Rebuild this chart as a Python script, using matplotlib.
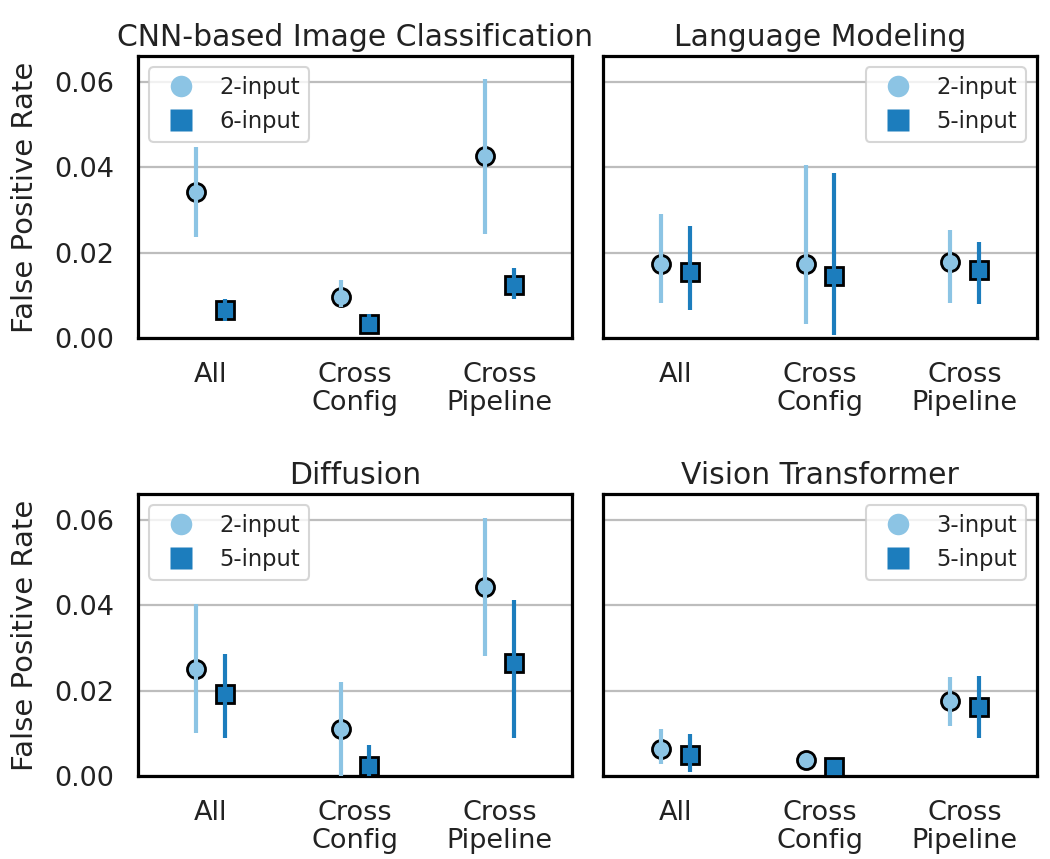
import matplotlib
matplotlib.use("Agg")
import matplotlib.pyplot as plt
from matplotlib.lines import Line2D
import numpy as np

plt.rcParams['font.family'] = ['DejaVu Sans']

categories = ["All", "Cross\nConfig", "Cross\nPipeline"]
yticks = [0.00, 0.02, 0.04, 0.06]

titles = ["CNN-based Image Classification", "Language Modeling",
          "Diffusion", "Vision Transformer"]
labels_a = ["2-input", "2-input", "2-input", "3-input"]
labels_b = ["6-input", "5-input", "5-input", "5-input"]

# CNN-based Image Classification
cnn_a_mean = [0.0342, 0.0096, 0.0425]
cnn_a_lo = [0.0237, 0.0072, 0.0243]
cnn_a_hi = [0.0448, 0.0135, 0.0606]
cnn_b_mean = [0.0065, 0.0033, 0.0123]
cnn_b_lo = [0.0039, 0.0015, 0.0092]
cnn_b_hi = [0.0092, 0.0057, 0.0165]

# Language Modeling
lm_a_mean = [0.0174, 0.0173, 0.0178]
lm_a_lo = [0.0083, 0.0032, 0.0083]
lm_a_hi = [0.0290, 0.0405, 0.0252]
lm_b_mean = [0.0155, 0.0144, 0.0160]
lm_b_lo = [0.0065, 0.0008, 0.0080]
lm_b_hi = [0.0262, 0.0386, 0.0225]

# Diffusion
dif_a_mean = [0.0251, 0.0110, 0.0442]
dif_a_lo = [0.0100, -0.0010, 0.0281]
dif_a_hi = [0.0402, 0.0220, 0.0604]
dif_b_mean = [0.0191, 0.0024, 0.0264]
dif_b_lo = [0.0089, 0.0000, 0.0089]
dif_b_hi = [0.0286, 0.0073, 0.0412]

# Vision Transformer
vit_a_mean = [0.0064, 0.0037, 0.0175]
vit_a_lo = [0.0028, 0.0030, 0.0116]
vit_a_hi = [0.0110, 0.0045, 0.0231]
vit_b_mean = [0.0049, 0.0021, 0.0161]
vit_b_lo = [0.0010, 0.0012, 0.0089]
vit_b_hi = [0.0098, 0.0030, 0.0234]

panels = [
    (cnn_a_mean, cnn_a_lo, cnn_a_hi, cnn_b_mean, cnn_b_lo, cnn_b_hi),
    (lm_a_mean, lm_a_lo, lm_a_hi, lm_b_mean, lm_b_lo, lm_b_hi),
    (dif_a_mean, dif_a_lo, dif_a_hi, dif_b_mean, dif_b_lo, dif_b_hi),
    (vit_a_mean, vit_a_lo, vit_a_hi, vit_b_mean, vit_b_lo, vit_b_hi),
]

LIGHT = "#8cc4e4"
DARK = "#1c7dbd"
TXT = "#222222"

W, H = 1050, 859
fig = plt.figure(figsize=(W / 100, H / 100), dpi=100)

ax_w = 434 / W
ax_h = 282 / H
lefts = [138 / W, 603 / W]
bottoms = [1 - 338 / H, 1 - 776 / H]

off = 0.1
x = np.arange(len(categories))

for i, (am, alo, ahi, bm, blo, bhi) in enumerate(panels):
    r, c = divmod(i, 2)
    ax = fig.add_axes([lefts[c], bottoms[r], ax_w, ax_h])
    ax.set_xlim(-0.5, 2.5)
    ax.set_ylim(0, 0.066)
    ax.set_yticks(yticks)
    ax.yaxis.grid(True, color="#bdbdbd", linewidth=1.6, zorder=0)
    ax.set_axisbelow(True)
    for s in ax.spines.values():
        s.set_linewidth(2.3)
        s.set_color("black")

    xa = x - off
    xb = x + off
    ax.plot(xa, am, linestyle="none", marker="o", ms=13, mfc=LIGHT,
            mec="black", mew=2.0, zorder=3)
    ax.vlines(xa, alo, ahi, color=LIGHT, linewidth=3.0, zorder=4)
    ax.plot(xb, bm, linestyle="none", marker="s", ms=13, mfc=DARK,
            mec="black", mew=2.0, zorder=3)
    ax.vlines(xb, blo, bhi, color=DARK, linewidth=3.0, zorder=4)

    ax.set_xticks(x)
    ax.set_xticklabels(categories, fontsize=19.5, color=TXT, linespacing=1.1)
    ax.tick_params(axis="both", length=0, pad=17, labelsize=19.5, labelcolor=TXT)
    if c == 0:
        ax.set_yticklabels([f"{v:.2f}" for v in yticks])
        ax.set_ylabel("False Positive Rate", fontsize=21, color=TXT, labelpad=11)
    else:
        ax.set_yticklabels([])
    ax.set_title(titles[i], fontsize=21.5, color=TXT, pad=7)

    handles = [
        Line2D([], [], linestyle="none", marker="o", ms=15.5, mfc=LIGHT, mec="none"),
        Line2D([], [], linestyle="none", marker="s", ms=15.5, mfc=DARK, mec="none"),
    ]
    leg = ax.legend(handles, [labels_a[i], labels_b[i]],
                    loc="upper left" if c == 0 else "upper right",
                    fontsize=16.3, frameon=True, fancybox=True,
                    handletextpad=0.7, borderpad=0.4, labelspacing=0.45,
                    handlelength=2.0, framealpha=0.8)
    leg.get_frame().set_edgecolor("#cccccc")
    leg.get_frame().set_linewidth(1.5)
    for t in leg.get_texts():
        t.set_color(TXT)

fig.savefig("out.png", dpi=100)
